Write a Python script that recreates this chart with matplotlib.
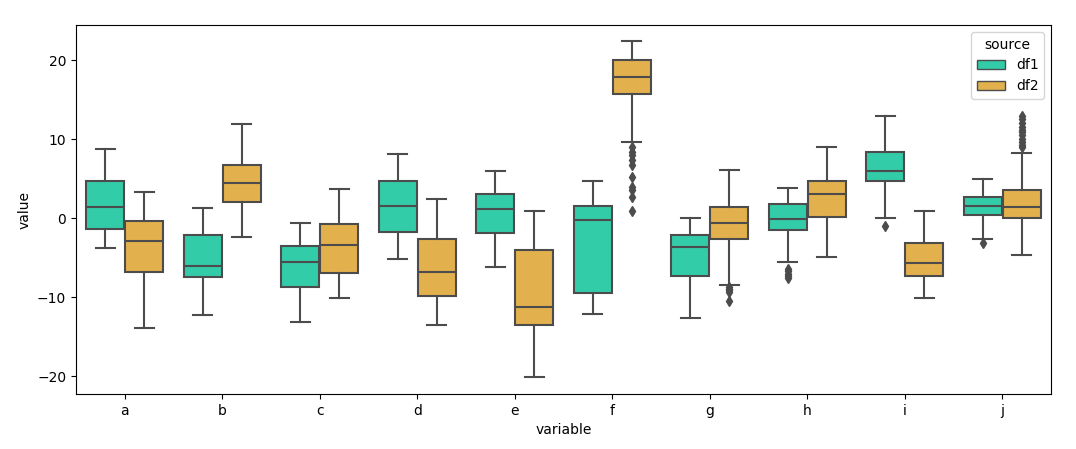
import matplotlib
matplotlib.use("Agg")
import matplotlib.pyplot as plt
from matplotlib.patches import Patch
import numpy as np

categories = ["a", "b", "c", "d", "e", "f", "g", "h", "i", "j"]
sources = ["df1", "df2"]

# per-category box stats: [whislo, q1, median, q3, whishi]
df1_stats = [
    [-3.8, -1.39, 1.43, 4.68, 8.77],
    [-12.2, -7.43, -6.08, -2.15, 1.27],
    [-13.16, -8.69, -5.53, -3.54, -0.59],
    [-5.15, -1.73, 1.52, 4.68, 8.1],
    [-6.16, -1.86, 1.14, 3.04, 5.95],
    [-12.15, -9.49, -0.25, 1.56, 4.68],
    [-12.6, -7.34, -3.67, -2.15, 0.0],
    [-5.53, -1.52, -0.13, 1.81, 3.8],
    [0.0, 4.68, 5.95, 8.35, 12.9],
    [-2.66, 0.38, 1.56, 2.66, 4.94],
]
df2_stats = [
    [-13.9, -6.84, -2.87, -0.38, 3.29],
    [-2.4, 2.07, 4.47, 6.71, 11.9],
    [-10.1, -6.92, -3.42, -0.72, 3.67],
    [-13.5, -9.83, -6.79, -2.66, 2.4],
    [-20.1, -13.5, -11.2, -4.05, 0.89],
    [9.7, 15.74, 17.85, 20.0, 22.4],
    [-8.48, -2.58, -0.59, 1.39, 6.08],
    [-4.94, 0.13, 3.08, 4.68, 8.99],
    [-10.1, -7.34, -5.7, -3.12, 0.89],
    [-4.68, 0.0, 1.39, 3.54, 8.23],
]
df1_fliers = [[], [], [], [], [], [], [],
              [-6.4, -6.7, -7.0, -7.3, -7.6],
              [-0.93],
              [-3.12]]
df2_fliers = [[], [], [], [], [],
              [9.06, 8.43, 8.01, 7.38, 6.75, 5.27, 4.0, 3.58, 2.73, 0.92],
              [-8.7, -8.9, -9.1, -9.3, -10.5],
              [], [],
              [12.9, 12.6, 12.1, 11.6, 11.2, 10.9, 10.5, 10.1, 9.7, 9.3, 9.0]]

colors = {"df1": "#33cca8", "df2": "#e2b04c"}
edge = "#4c4c4c"

fig = plt.figure(figsize=(10.76, 4.49), dpi=100)
ax = fig.add_axes([0.0706, 0.1225, 0.9062, 0.8218])

def make_stats(stats, fliers):
    out = []
    for s, f in zip(stats, fliers):
        out.append(dict(whislo=s[0], q1=s[1], med=s[2], q3=s[3], whishi=s[4], fliers=f))
    return out

x = np.arange(len(categories))
for src, stats, fl, off in [("df1", df1_stats, df1_fliers, -0.2), ("df2", df2_stats, df2_fliers, 0.2)]:
    ax.bxp(make_stats(stats, fl), positions=x + off, widths=0.39, patch_artist=True,
           showfliers=True, manage_ticks=False,
           boxprops=dict(facecolor=colors[src], edgecolor=edge, linewidth=1.5),
           medianprops=dict(color=edge, linewidth=1.5),
           whiskerprops=dict(color=edge, linewidth=1.5),
           capprops=dict(color=edge, linewidth=1.5),
           flierprops=dict(marker="d", markerfacecolor=edge, markeredgecolor=edge,
                           markersize=5, linestyle="none"))

ax.set_xlim(-0.5, 9.5)
ax.set_ylim(-22.24, 24.47)
ax.set_xticks(x)
ax.set_xticklabels(categories)
ax.set_yticks([-20, -10, 0, 10, 20])
ax.set_xlabel("variable")
ax.set_ylabel("value")

handles = [Patch(facecolor=colors[s], edgecolor=edge, linewidth=1, label=s) for s in sources]
ax.legend(handles=handles, title="source", loc="upper right")

fig.savefig("out.png", dpi=100)
